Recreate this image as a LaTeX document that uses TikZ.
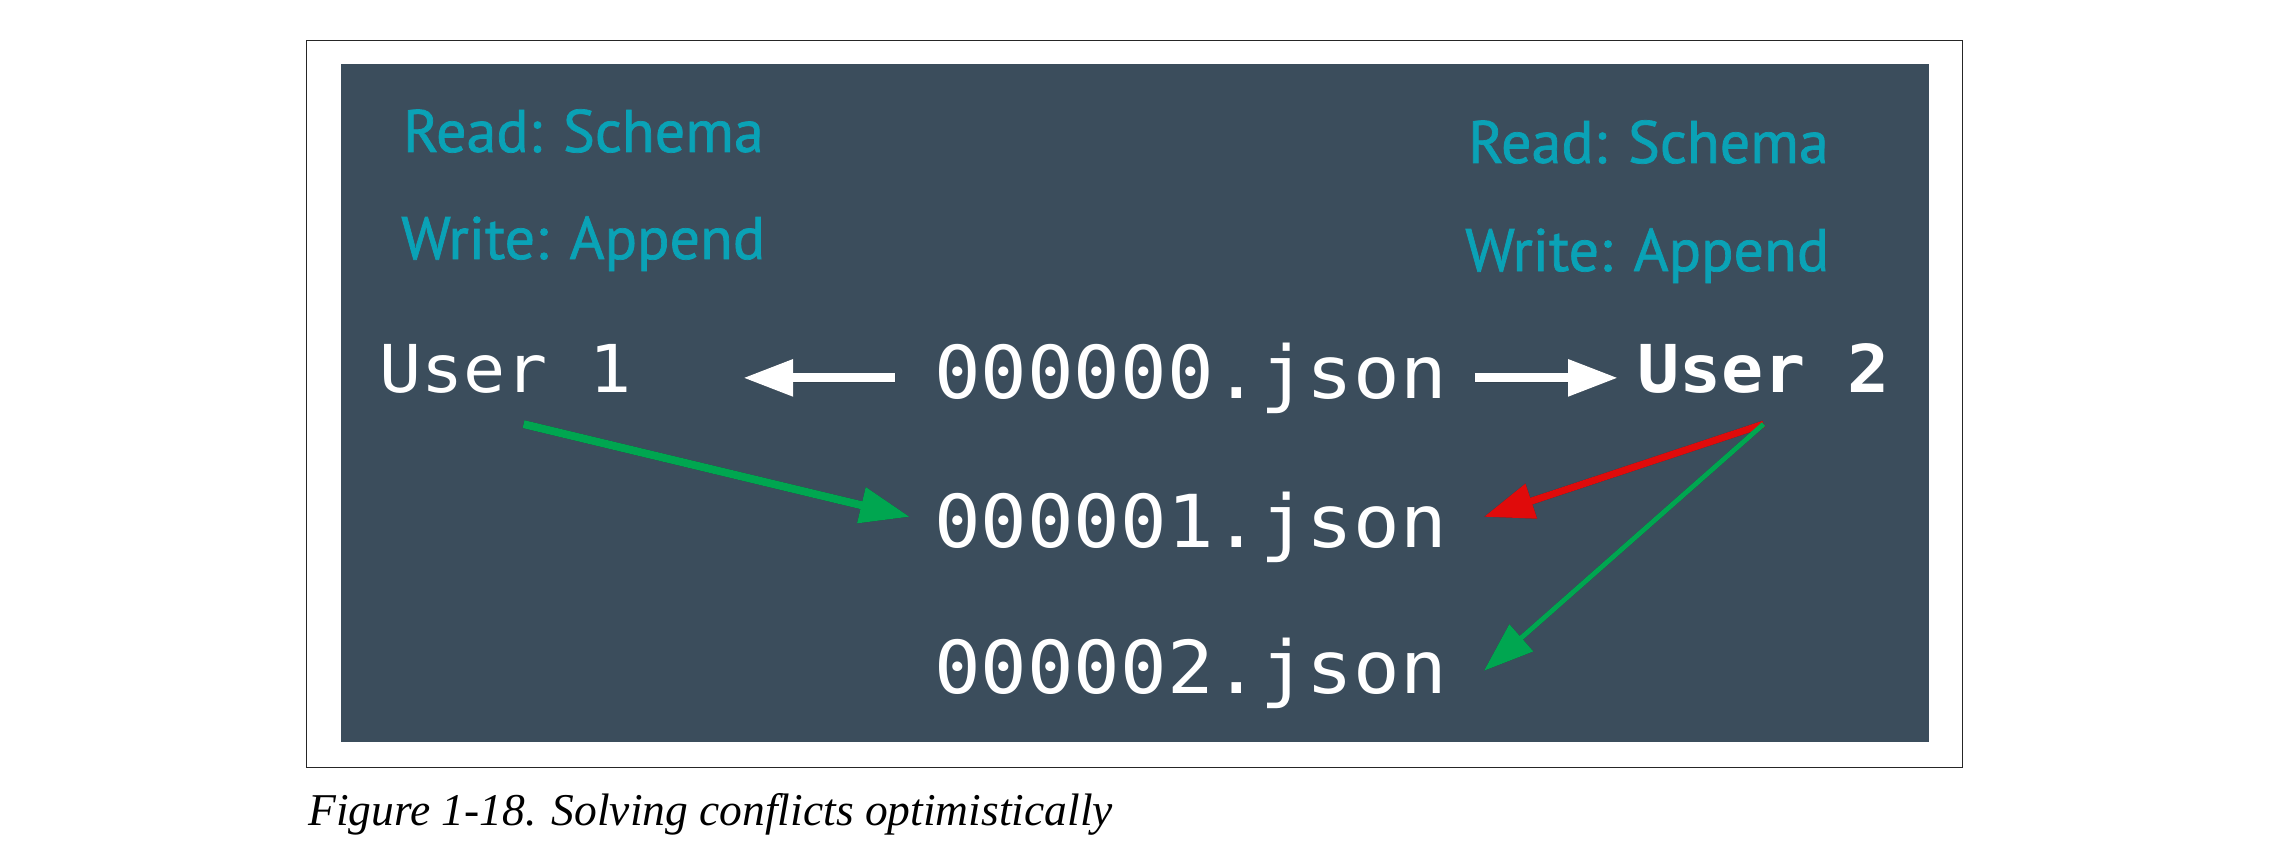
\documentclass[tikz,border=0pt]{standalone}
\usepackage{fontspec}
\setmainfont{Liberation Serif}
\newfontfamily\lblfont[FakeBold=1.2]{PT Sans}
\newfontfamily\jsonfont[FakeStretch=1.06]{DejaVu Sans Mono}
\usetikzlibrary{arrows.meta,calc}
\definecolor{bgdark}{HTML}{3B4D5C}
\definecolor{cteal}{HTML}{0AA2B6}
\definecolor{cgreen}{HTML}{00A650}
\definecolor{cred}{HTML}{E00B0B}
\tikzset{
  teallbl/.style={anchor=base west, inner sep=0pt, text=cteal, font=\lblfont\fontsize{60}{72}\selectfont},
  filelbl/.style={anchor=base west, inner sep=0pt, text=white, font=\jsonfont\fontsize{73}{88}\selectfont},
  userlbl/.style={anchor=base west, inner sep=0pt, text=white, font=\jsonfont\fontsize{66}{80}\selectfont},
  tip/.style={-{Triangle[length=50pt,width=35pt]}},
  whitearrow/.style={tip, line width=9pt, white},
  greenthick/.style={tip, line width=8pt, cgreen},
  redarrow/.style={tip, line width=7pt, cred},
  greenthin/.style={tip, line width=5pt, cgreen},
  shadowed/.style={black, shift={(3,4)}},
}
\begin{document}
\begin{tikzpicture}[x=1pt,y=-1pt]
\useasboundingbox (0,0) rectangle (2278,856);
\fill[white] (0,0) rectangle (2278,856);
\draw[line width=1.5pt, black!85] (306.5,40.5) rectangle (1962.5,767.5);
\fill[bgdark] (341,64) rectangle (1929,742);

\node[teallbl] (rs1) at (403,152) {Read: Schema};
\node[teallbl] (wa1) at (401,259) {Write: Append};
\node[teallbl] (rs2) at (1468,163) {Read: Schema};
\node[teallbl] (wa2) at (1465,271) {Write: Append};

\node[userlbl] (u1) at (379,392) {User 1};
\node[userlbl, font=\jsonfont\bfseries\fontsize{66}{80}\selectfont] (u2) at (1637,392) {User 2};
\node[filelbl] (f0) at (934,398) {000000.json};
\node[filelbl] (f1) at (934,547) {000001.json};
\node[filelbl] (f2) at (934,693) {000002.json};

\begin{scope}[transparency group, opacity=0.35]
  \draw[whitearrow, shadowed, shorten <=39pt, shorten >=111pt] (f0.west) -- (f0.west -| u1.east);
  \draw[whitearrow, shadowed, shorten <=28pt, shorten >=19pt] (f0.east) -- (f0.east -| u2.west);
  \draw[greenthick, shadowed] ($(u1.south)+(18,31)$) -- ($(f1.west)+(-24,-10)$);
  \draw[redarrow, shadowed] ($(u2.south)+(0,31)$) -- ($(f1.east)+(37,-10)$);
  \draw[greenthin, shadowed] ($(u2.south)+(0,31)$) -- ($(f2.east)+(37,-2)$);
\end{scope}

\draw[whitearrow, shorten <=39pt, shorten >=111pt] (f0.west) -- (f0.west -| u1.east);
\draw[whitearrow, shorten <=28pt, shorten >=19pt] (f0.east) -- (f0.east -| u2.west);
\draw[greenthick] ($(u1.south)+(18,31)$) -- ($(f1.west)+(-24,-10)$);
\draw[redarrow] ($(u2.south)+(0,31)$) -- ($(f1.east)+(37,-10)$);
\draw[greenthin] ($(u2.south)+(0,31)$) -- ($(f2.east)+(37,-2)$);

\node[anchor=base west, inner sep=0pt, font=\itshape\fontsize{45.5}{55}\selectfont] (cap) at (308,825) {Figure 1-18. Solving conflicts optimistically};
\end{tikzpicture}
\end{document}
